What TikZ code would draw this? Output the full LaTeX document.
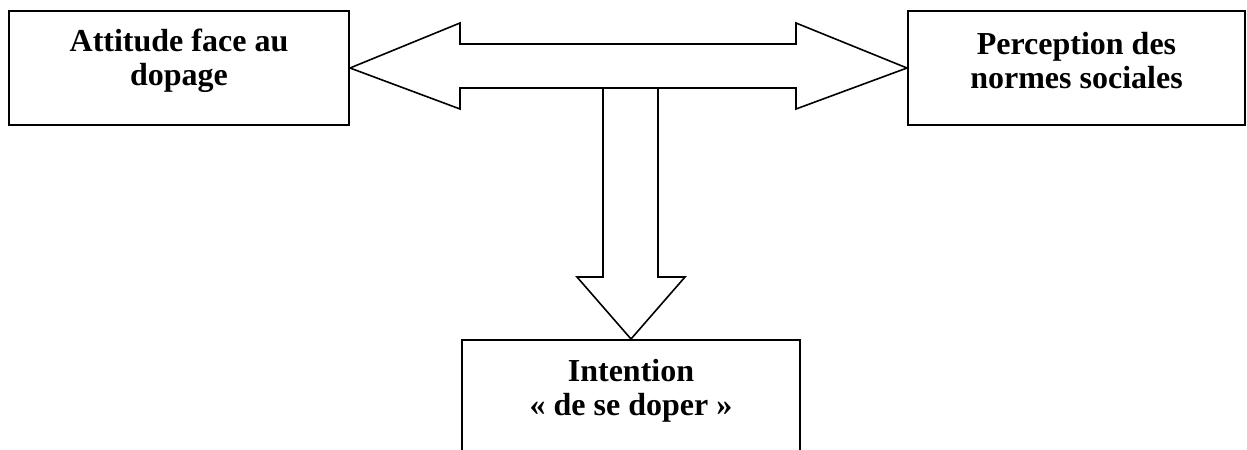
\documentclass[tikz,border=0pt]{standalone}
\usepackage{fontspec}
\setmainfont{Liberation Serif}
\begin{document}
\begin{tikzpicture}[x=0.75pt,y=-0.75pt,
  box/.style={draw=black,line width=1.5pt,inner sep=0pt,fill=white},
  lbl/.style={font=\bfseries\fontsize{24}{25.5}\selectfont,align=center,inner sep=0pt,anchor=base},
  bigarrow/.style={draw=black,line width=1.2pt,line join=miter,fill=white}]
\clip (0,0) rectangle (1247,450);
\fill[white] (0,0) rectangle (1247,450);
% boxes
\node[box,minimum width=255pt,minimum height=85.5pt] (att) at (179,68) {};
\node[box,minimum width=252.75pt,minimum height=85.5pt] (norm) at (1076.5,68) {};
\node[box,minimum width=253.5pt,minimum height=90pt] (int) at (631,400) {};
% labels (base = baseline of last line)
\node[lbl] (attl) at (179,85) {Attitude face au\\dopage};
\node[lbl] (norml) at (1076.5,88) {Perception des\\normes sociales};
\node[lbl] (intl) at (631,415) {Intention\\« de se doper »};
% double arrow
\draw[bigarrow] (att.east) -- (460,23) -- (460,44) -- (796,44) -- (796,23)
  -- (norm.west) -- (796,109) -- (796,88) -- (460,88) -- (460,109) -- cycle;
% down arrow
\draw[bigarrow] (603,88) -- (658,88) -- (658,277) -- (685,277) -- (int.north)
  -- (577,277) -- (603,277) -- cycle;
\end{tikzpicture}
\end{document}
